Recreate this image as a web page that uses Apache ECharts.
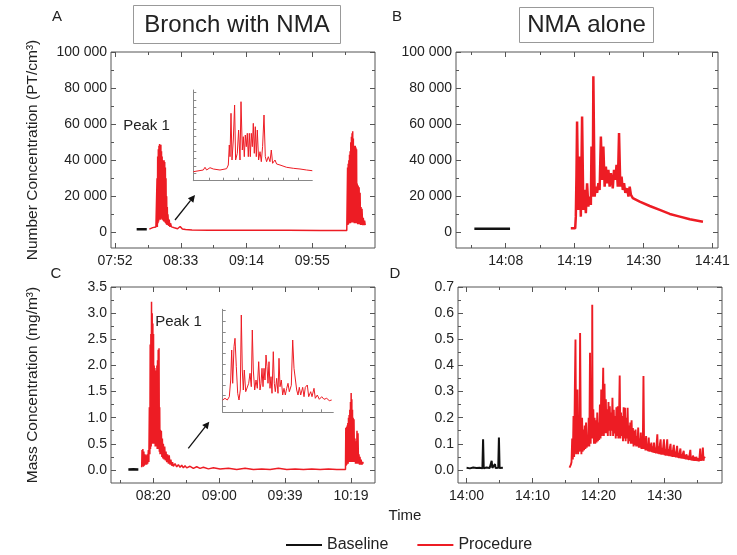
<!DOCTYPE html>
<html><head><meta charset="utf-8">
<script src="https://cdn.jsdelivr.net/npm/echarts@6/dist/echarts.min.js"></script>
<style>html,body{margin:0;padding:0;background:#fff}#c{width:737px;height:555px}</style>
</head><body><div id="c"></div>
<script>
// ---------- DATA (x in minutes since midnight) ----------
const aXTicks = [472, 513, 554, 595];
const aXLabels = ['07:52', '08:33', '09:14', '09:55'];
const bXTicks = [848, 859, 870, 881];
const bXLabels = ['14:08', '14:19', '14:30', '14:41'];
const cXTicks = [500, 539.5, 579, 618.5];
const cXLabels = ['08:20', '09:00', '09:39', '10:19'];
const dXTicks = [840, 850, 860, 870];
const dXLabels = ['14:00', '14:10', '14:20', '14:30'];
const numYTicks = [0, 20000, 40000, 60000, 80000, 100000];
const numYLabels = ['0', '20 000', '40 000', '60 000', '80 000', '100 000'];
const massCYTicks = [0, 0.5, 1, 1.5, 2, 2.5, 3, 3.5];
const massCYLabels = ['0.0', '0.5', '1.0', '1.5', '2.0', '2.5', '3.0', '3.5'];
const massDYTicks = [0, 0.1, 0.2, 0.3, 0.4, 0.5, 0.6, 0.7];
const massDYLabels = ['0.0', '0.1', '0.2', '0.3', '0.4', '0.5', '0.6', '0.7'];

const aBaseline = [[485.5, 1700], [488.5, 1700], [491.8, 1700]];
const aProcedure = [[493.4,1800],[494.5,2000],[495.5,2600],[496.5,2200],[497.5,3000],[498.0,4000],
[498.2,30000],[498.4,3000],[498.6,42000],[498.8,5000],[499.0,46000],[499.2,6000],[499.4,48000],[499.6,7000],[499.8,49000],[500.0,8000],[500.2,47000],[500.4,7000],[500.6,48500],[500.8,8000],[501.0,45000],[501.2,7500],[501.4,42000],[501.6,7000],[501.8,40000],[502.0,6500],[502.2,38000],[502.4,6000],[502.6,40000],[502.8,6000],[503.0,39000],[503.2,5500],[503.4,36000],[503.6,5000],[503.8,30000],[504.0,4500],[504.2,20000],[504.4,4000],[504.6,14000],[504.8,4000],[505.0,10000],[505.4,3500],[505.8,7000],[506.2,3000],[506.6,5000],[507.2,3000],[508.0,3500],[509.0,2500],[510.0,2200],[511.0,2000],[512.0,2800],[512.6,3200],[513.2,2200],[514.0,1800],[516.0,1500],[520.0,1300],[530.0,1200],[540.0,1100],[560.0,1150],[580.0,1100],[600.0,1050],[616.5,1000],
[617.0,36000],[617.2,4000],[617.4,38000],[617.6,4500],[617.8,40000],[618.0,5000],[618.2,43000],[618.4,5000],[618.6,45000],[618.8,5000],[619.0,50000],[619.2,5500],[619.4,53000],[619.6,5500],[619.8,55000],[620.0,5500],[620.2,56000],[620.4,5500],[620.6,52000],[620.8,5500],[621.0,48000],[621.2,5000],[621.4,47500],[621.6,5000],[621.8,48000],[622.0,5000],[622.2,47000],[622.4,5000],[622.6,46000],[622.8,5000],[623.0,27000],[623.3,4500],[623.6,26000],[623.9,4500],[624.2,25000],[624.5,4500],[624.8,22000],[625.1,4000],[625.4,14000],[625.7,4000],[626.0,13000],[626.4,4000],[626.8,8000],[627.2,4000],[627.6,6500],[628.0,4000]];

const bBaseline = [[843.0, 2000], [845.0, 2000], [846.8, 2000], [848.7, 2000]];
const bProcedure = [[858.4,2200],[859.1,2200],[859.2,8700],[859.3,30900],[859.4,61400],[859.6,12400],[859.8,42000],[860.0,8700],[860.2,64200],[860.4,12400],[860.6,23500],[860.8,10600],[861.0,27200],[861.2,14200],[861.4,19800],[861.6,15200],[861.7,47600],[861.9,19800],[862.0,86500],[862.2,19800],[862.4,25300],[862.6,21900],[862.8,27200],[863.0,23500],[863.2,53100],[863.4,29100],[863.6,47600],[863.8,25300],[864.0,36400],[864.2,27200],[864.4,34600],[864.6,25300],[864.8,32800],[865.1,24400],[865.3,34600],[865.5,29100],[865.7,37400],[865.9,25300],[866.1,55000],[866.3,25300],[866.5,30900],[866.7,23500],[866.9,27200],[867.1,21900],[867.4,24400],[867.6,19800],[867.8,25300],[868.0,20700],[868.3,18900],[869.4,17000],[871.0,14600],[872.6,12400],[874.2,10200],[875.8,8700],[877.4,7200],[879.5,5900]];

const cBaseline = [[485.0, 0.01], [488.0, 0.012], [491.0, 0.01]];
const cProcedure = [[493.0,0.05],[493.2,0.38],[493.4,0.08],[493.7,0.40],[494.0,0.06],[494.3,0.35],[494.6,0.08],[495.0,0.30],[495.3,0.10],[495.6,0.28],[496.0,0.10],[496.3,0.30],[496.6,0.12],[497.0,0.38],[497.3,0.15],[497.6,1.2],[497.9,0.3],[498.1,2.4],[498.3,0.4],[498.5,2.6],[498.7,0.45],[498.9,3.22],[499.1,0.5],[499.3,3.0],[499.5,0.5],[499.7,2.8],[499.9,0.5],[500.1,2.6],[500.3,0.5],[500.5,2.0],[500.7,0.5],[500.9,1.95],[501.1,0.45],[501.3,1.9],[501.5,0.45],[501.7,1.8],[501.9,0.45],[502.1,2.0],[502.3,0.4],[502.5,2.1],[502.7,0.4],[502.9,2.3],[503.1,0.4],[503.4,2.33],[503.6,0.35],[503.8,1.2],[504.0,0.3],[504.2,0.77],[504.5,0.3],[504.8,0.75],[505.1,0.25],[505.4,0.6],[505.7,0.22],[506.0,0.5],[506.4,0.2],[506.8,0.45],[507.2,0.18],[507.6,0.35],[508.0,0.15],[508.5,0.3],[509.0,0.12],[509.5,0.28],[510.0,0.1],[510.5,0.2],[511,0.08],[511.5,0.15],[512,0.07],[513,0.12],[514,0.06],[515,0.1],[516,0.05],[517,0.09],[518,0.04],[519,0.08],[520,0.04],[522,0.07],[524,0.03],[526,0.06],[528,0.03],[530,0.05],[533,0.02],[536,0.04],[540,0.02],[545,0.03],[550,0.01],[555,0.03],[560,0.01],[565,0.02],[570,0.01],[575,0.03],[580,0.01],[585,0.02],[590,0.01],[595,0.02],[600,0.01],[605,0.02],[610,0.01],[615.2,0.01],
[615.4,0.8],[615.6,0.08],[615.8,0.82],[616.0,0.1],[616.2,0.85],[616.4,0.12],[616.6,0.9],[616.8,0.12],[617.0,1.0],[617.2,0.15],[617.4,1.05],[617.6,0.15],[617.8,1.15],[618.0,0.15],[618.2,1.3],[618.4,0.15],[618.6,1.47],[618.8,0.15],[619.0,1.35],[619.2,0.15],[619.4,1.15],[619.6,0.15],[619.8,1.0],[620.0,0.15],[620.3,0.97],[620.6,0.15],[620.9,0.6],[621.2,0.12],[621.5,0.55],[621.8,0.12],[622.1,0.75],[622.4,0.12],[622.7,0.7],[623.0,0.12],[623.3,0.3],[623.6,0.1],[623.9,0.25],[624.2,0.1],[624.6,0.2],[625.0,0.1],[625.5,0.15],[625.9,0.12]];

const dBaseline = [[840.0,0.008],[840.5,0.006],[841.0,0.009],[841.5,0.007],[842.0,0.008],[842.4,0.006],[842.5,0.117],[842.6,0.006],[843.0,0.009],[843.5,0.007],[843.8,0.035],[843.9,0.008],[844.3,0.022],[844.4,0.007],[844.8,0.008],[844.9,0.124],[845.0,0.007],[845.5,0.008]];
const dProcedure = [[855.6,0.009],[855.8,0.02],[855.9,0.03],[856.0,0.12],[856.1,0.04],[856.2,0.206],[856.3,0.05],[856.4,0.3],[856.5,0.499],[856.6,0.06],[856.7,0.155],[856.8,0.308],[856.9,0.06],[857.0,0.2],[857.1,0.07],[857.2,0.524],[857.3,0.155],[857.4,0.06],[857.5,0.2],[857.6,0.07],[857.7,0.155],[857.8,0.075],[857.9,0.17],[858.0,0.08],[858.1,0.181],[858.2,0.085],[858.3,0.13],[858.4,0.09],[858.5,0.2],[858.6,0.09],[858.7,0.448],[858.8,0.1],[858.9,0.308],[859.0,0.12],[859.04,0.632],[859.1,0.12],[859.2,0.232],[859.3,0.1],[859.4,0.2],[859.5,0.1],[859.6,0.19],[859.7,0.105],[859.8,0.22],[859.9,0.11],[860.0,0.181],[860.1,0.115],[860.2,0.25],[860.3,0.12],[860.4,0.308],[860.5,0.13],[860.6,0.25],[860.7,0.391],[860.8,0.13],[860.9,0.33],[861.0,0.14],[861.1,0.27],[861.2,0.14],[861.3,0.232],[861.4,0.13],[861.5,0.26],[861.6,0.15],[861.7,0.244],[861.8,0.13],[861.9,0.22],[862.0,0.15],[862.1,0.276],[862.2,0.13],[862.3,0.23],[862.4,0.14],[862.5,0.206],[862.6,0.12],[862.7,0.24],[862.8,0.13],[862.9,0.244],[863.0,0.12],[863.1,0.2],[863.2,0.361],[863.3,0.12],[863.4,0.22],[863.5,0.13],[863.6,0.206],[863.7,0.11],[863.8,0.24],[863.9,0.12],[864.0,0.238],[864.1,0.11],[864.2,0.2],[864.3,0.12],[864.4,0.238],[864.5,0.1],[864.6,0.17],[864.7,0.11],[864.8,0.181],[864.9,0.1],[865.0,0.19],[865.1,0.1],[865.2,0.16],[865.3,0.09],[865.4,0.15],[865.5,0.095],[865.6,0.155],[865.7,0.09],[865.8,0.13],[865.9,0.09],[866.0,0.162],[866.1,0.085],[866.2,0.12],[866.3,0.085],[866.4,0.143],[866.5,0.08],[866.6,0.11],[866.7,0.08],[866.8,0.359],[866.9,0.08],[867.0,0.12],[867.1,0.075],[867.2,0.13],[867.3,0.075],[867.4,0.1],[867.5,0.072],[867.6,0.124],[867.7,0.07],[867.8,0.1],[867.9,0.07],[868.0,0.105],[868.1,0.068],[868.2,0.09],[868.3,0.066],[868.4,0.105],[868.5,0.065],[868.6,0.085],[868.7,0.063],[868.8,0.1],[868.9,0.136],[869.0,0.062],[869.1,0.09],[869.2,0.06],[869.3,0.1],[869.4,0.117],[869.5,0.058],[869.6,0.085],[869.7,0.058],[869.8,0.09],[869.9,0.117],[870.0,0.056],[870.1,0.08],[870.2,0.055],[870.3,0.09],[870.4,0.117],[870.5,0.054],[870.6,0.08],[870.7,0.053],[870.8,0.085],[870.9,0.1],[871.0,0.052],[871.1,0.075],[871.2,0.05],[871.3,0.08],[871.4,0.096],[871.5,0.05],[871.6,0.07],[871.7,0.048],[871.8,0.075],[871.9,0.092],[872.0,0.047],[872.1,0.065],[872.2,0.045],[872.3,0.07],[872.4,0.082],[872.5,0.044],[872.6,0.06],[872.7,0.043],[872.8,0.065],[872.9,0.073],[873.0,0.042],[873.1,0.058],[873.2,0.04],[873.3,0.06],[873.4,0.065],[873.5,0.04],[873.6,0.055],[873.7,0.038],[873.8,0.06],[873.9,0.077],[874.0,0.037],[874.1,0.05],[874.2,0.036],[874.3,0.055],[874.4,0.06],[874.5,0.035],[874.6,0.05],[874.7,0.035],[874.8,0.05],[874.9,0.053],[875.0,0.034],[875.1,0.045],[875.2,0.033],[875.3,0.05],[875.4,0.082],[875.5,0.035],[875.6,0.05],[875.7,0.036],[875.8,0.086],[875.9,0.035],[876.0,0.05],[876.1,0.045]];

const insetA = [[0,9],[10,10.7],[11.7,13.4],[13.3,10.7],[16.7,13],[20,11.7],[26.7,10.7],[33.3,12],[35,15.7],[36,35.7],[36.7,24],[37.7,67.4],[38.7,20.7],[40,40.7],[41.3,75.7],[42.3,20.7],[44,27.4],[45.3,50.7],[46.7,20.7],[47.7,79],[49,30.7],[50,44],[51,24],[52,45.7],[53,34],[54,47.4],[55,24],[56,47.4],[57,24],[58,47.4],[59,34],[60,57.4],[61,27.4],[62,54],[63,24],[64,50.7],[65.3,20.7],[66.7,29],[68,19],[69.3,34],[70.7,65.7],[72,24],[73.3,19],[75,24],[76.7,19],[78,30.7],[79.3,17.4],[81.7,20.7],[83.3,16.7],[86.7,15.7],[93.3,13.4],[100,12.4],[106.7,11.7],[113.3,10.7],[119,10]];
const insetC = [[0,12.3],[2.3,14],[4.6,12.3],[6.6,15.6],[8,32.3],[9,62.3],[10,29],[11.3,65.6],[12.3,74],[13.6,45.6],[15,19],[16.3,12.3],[17.6,22.3],[18.6,97.3],[19.6,42.3],[20.6,22.3],[21.6,42.3],[23,20.6],[24.6,19],[26,29],[27.3,39],[28.6,25.6],[29.6,82.3],[30.6,42.3],[32,22.3],[33.3,32.3],[34.6,24],[36,50.6],[37.3,22.3],[38.3,29],[39.3,44],[40.3,25.6],[41.3,44],[42.3,32.3],[43.3,57.3],[44.3,45.6],[45.3,29],[46.3,50.6],[47.3,24],[48.3,35.6],[49.3,19],[50.6,60.6],[51.6,29],[52.6,20.6],[54,34],[55.3,19],[56.3,54],[57.3,25.6],[58.6,32.3],[60,17.3],[61.3,24],[62.6,17.3],[64,24],[65.3,29],[66.6,20.6],[68.6,27],[70,72.3],[71.3,44],[72.6,44],[74,22.3],[75.3,17.3],[76.6,25],[78,17.3],[80,25],[81.3,15.6],[82.6,25],[84.6,27.3],[86,15.6],[88,20.6],[89.3,15.6],[91.3,24],[92.6,14],[94.6,17.3],[96.6,13],[99,15.6],[101.3,13],[104,14],[106.6,11.6],[109,12.3]];
const insetAXTicks = [15.7, 30, 45, 60, 75, 90, 105];
const insetAYTicks = [7.35, 14.7, 22.05, 29.4, 36.75, 44.1, 51.45, 58.8, 66.15, 73.5, 80.85, 88.2];
const insetCXTicks = [20, 40, 59.7, 79.5, 99];
const insetCYTicks = [6.3, 16.6, 27, 37.6, 48.3, 59, 69.6, 80, 90.6, 102.3];

// ---------- CHART ----------
const FONT = "'Liberation Sans', Arial, Helvetica, sans-serif";
const RED = '#ed1c24', BLACK = '#111111', FRAME = '#555555', TXT = '#222222';
const mid = a => a.slice(0, -1).map((v, i) => (v + a[i + 1]) / 2);

const grids = [], xAxes = [], yAxes = [], series = [];
function lab(ticks, labels) {
  return v => { const i = ticks.findIndex(t => Math.abs(t - v) < 1e-6); return i < 0 ? '' : labels[i]; };
}
function tick(vals, len, color) {
  return { show: true, inside: true, length: len, customValues: vals, lineStyle: { color: color || FRAME, width: 1 } };
}
const noLine = { show: false, onZero: false };
function panel(g, xr, xT, xL, xMinor, yr, yT, yL, yMinor, yName) {
  const gi = grids.length;
  grids.push(Object.assign({ show: true, borderColor: FRAME, borderWidth: 1, backgroundColor: 'transparent' }, g));
  const bx = { gridIndex: gi, type: 'value', min: xr[0], max: xr[1], axisLine: noLine, splitLine: { show: false } };
  const by = { gridIndex: gi, type: 'value', min: yr[0], max: yr[1], axisLine: noLine, splitLine: { show: false } };
  const xi = xAxes.length, yi = yAxes.length;
  xAxes.push(Object.assign({}, bx, { position: 'bottom', axisTick: tick(xT, 5),
    axisLabel: { customValues: xT, formatter: lab(xT, xL), margin: 6, fontSize: 14, color: TXT, fontFamily: FONT } }));
  xAxes.push(Object.assign({}, bx, { position: 'bottom', axisTick: tick(xMinor, 3), axisLabel: { show: false } }));
  xAxes.push(Object.assign({}, bx, { position: 'top', axisTick: tick(xT, 5), axisLabel: { show: false } }));
  xAxes.push(Object.assign({}, bx, { position: 'top', axisTick: tick(xMinor, 3), axisLabel: { show: false } }));
  const yMain = Object.assign({}, by, { position: 'left', axisTick: tick(yT, 5),
    axisLabel: { customValues: yT, formatter: lab(yT, yL), margin: 4, fontSize: 14, color: TXT, fontFamily: FONT } });
  if (yName) Object.assign(yMain, { name: yName, nameLocation: 'middle', nameGap: 70,
    nameTextStyle: { fontSize: 15.5, color: TXT, fontFamily: FONT } });
  yAxes.push(yMain);
  yAxes.push(Object.assign({}, by, { position: 'left', axisTick: tick(yMinor, 3), axisLabel: { show: false } }));
  yAxes.push(Object.assign({}, by, { position: 'right', axisTick: tick(yT, 5), axisLabel: { show: false } }));
  yAxes.push(Object.assign({}, by, { position: 'right', axisTick: tick(yMinor, 3), axisLabel: { show: false } }));
  return [xi, yi];
}
function inset(g, xr, yr, xT, yT) {
  const gi = grids.length;
  grids.push(Object.assign({ show: false }, g));
  const xi = xAxes.length, yi = yAxes.length;
  const line = { show: true, onZero: false, lineStyle: { color: '#888', width: 1 } };
  xAxes.push({ gridIndex: gi, type: 'value', position: 'bottom', min: xr[0], max: xr[1], axisLine: line,
    splitLine: { show: false }, axisTick: tick(xT, 3, '#888'), axisLabel: { show: false } });
  yAxes.push({ gridIndex: gi, type: 'value', position: 'left', min: yr[0], max: yr[1], axisLine: line,
    splitLine: { show: false }, axisTick: tick(yT, 3, '#888'), axisLabel: { show: false } });
  return [xi, yi];
}
function addLine(name, data, ax, color, width) {
  series.push({ name, type: 'line', data, xAxisIndex: ax[0], yAxisIndex: ax[1], showSymbol: false, symbol: 'none',
    lineStyle: { color, width }, itemStyle: { color }, animation: false, silent: true, z: 3 });
}

const numYMinor = [10000, 30000, 50000, 70000, 90000];
const pA = panel({ left: 111, top: 52, width: 264, height: 196 }, [469.5, 634.1], aXTicks, aXLabels, [492.5, 533.5, 574.5, 615.5],
  [-8700, 100000], numYTicks, numYLabels, numYMinor, 'Number Concentration (PT/cm³)');
const pB = panel({ left: 456, top: 52, width: 262, height: 196 }, [840.07, 881.9], bXTicks, bXLabels, [842.5, 853.5, 864.5, 875.5],
  [-8700, 100000], numYTicks, numYLabels, numYMinor, null);
const pC = panel({ left: 111, top: 287, width: 264, height: 196 }, [474.6, 632.9], cXTicks, cXLabels, [480.25, 519.75, 559.25, 598.75],
  [-0.25, 3.5], massCYTicks, massCYLabels, mid(massCYTicks), 'Mass Concentration (mg/m³)');
const pD = panel({ left: 458, top: 287, width: 264, height: 196 }, [838.7, 878.7], dXTicks, dXLabels, [845, 855, 865, 875],
  [-0.05, 0.7], massDYTicks, massDYLabels, mid(massDYTicks), null);
const iA = inset({ left: 193.3, top: 90, width: 119, height: 90.7 }, [0, 119], [0, 90.7], insetAXTicks, insetAYTicks);
const iC = inset({ left: 222.7, top: 309.3, width: 110.6, height: 103 }, [0, 110.6], [0, 103], insetCXTicks, insetCYTicks);

addLine('Baseline', aBaseline, pA, BLACK, 2.5);
addLine('Procedure', aProcedure, pA, RED, 1.5);
addLine('Baseline', bBaseline, pB, BLACK, 2.5);
addLine('Procedure', bProcedure, pB, RED, 2.5);
addLine('Baseline', cBaseline, pC, BLACK, 2.5);
addLine('Procedure', cProcedure, pC, RED, 1.5);
addLine('Baseline', dBaseline, pD, BLACK, 2);
addLine('Procedure', dProcedure, pD, RED, 1.9);
addLine('Procedure', insetA, iA, RED, 1);
addLine('Procedure', insetC, iC, RED, 1);

function txt(text, x, y, size, align) {
  return { type: 'text', x, y, z: 10, style: { text, fontSize: size, fontFamily: FONT, fill: TXT,
    align: align || 'center', verticalAlign: 'middle' } };
}
function arrow(x1, y1, x2, y2) {
  const dx = x2 - x1, dy = y2 - y1, L = Math.hypot(dx, dy), ux = dx / L, uy = dy / L;
  const hl = 7, hw = 3.5, bx = x2 - ux * hl, by = y2 - uy * hl;
  return [
    { type: 'line', z: 10, shape: { x1, y1, x2: bx, y2: by }, style: { stroke: BLACK, lineWidth: 1.3 } },
    { type: 'polygon', z: 10, shape: { points: [[x2, y2], [bx - uy * hw, by + ux * hw], [bx + uy * hw, by - ux * hw]] }, style: { fill: BLACK } }
  ];
}
const graphic = [
  { type: 'rect', z: 5, shape: { x: 133.5, y: 5.5, width: 207, height: 38 }, style: { fill: '#fff', stroke: '#999', lineWidth: 1 } },
  txt('Bronch with NMA', 237, 25, 24),
  { type: 'rect', z: 5, shape: { x: 519.5, y: 7.5, width: 134, height: 35 }, style: { fill: '#fff', stroke: '#999', lineWidth: 1 } },
  txt('NMA alone', 586.5, 25, 24),
  txt('A', 57, 17, 15), txt('B', 397, 17, 15), txt('C', 56, 274, 15), txt('D', 395, 274, 15),
  txt('Peak 1', 146.5, 126, 15), txt('Peak 1', 178.5, 322, 15),
  txt('Time', 405, 516, 15)
].concat(arrow(175, 220, 195, 195), arrow(188.3, 448.3, 209.3, 421.7));

const chart = echarts.init(document.getElementById('c'), null, { renderer: 'canvas' });
chart.setOption({
  animation: false,
  backgroundColor: '#fff',
  textStyle: { fontFamily: FONT },
  grid: grids, xAxis: xAxes, yAxis: yAxes, series,
  legend: { data: ['Baseline', 'Procedure'], left: 281, top: 532, icon: 'rect', itemWidth: 36, itemHeight: 2,
    itemGap: 29, textStyle: { fontSize: 16, color: TXT, fontFamily: FONT } },
  graphic
});
</script></body></html>
